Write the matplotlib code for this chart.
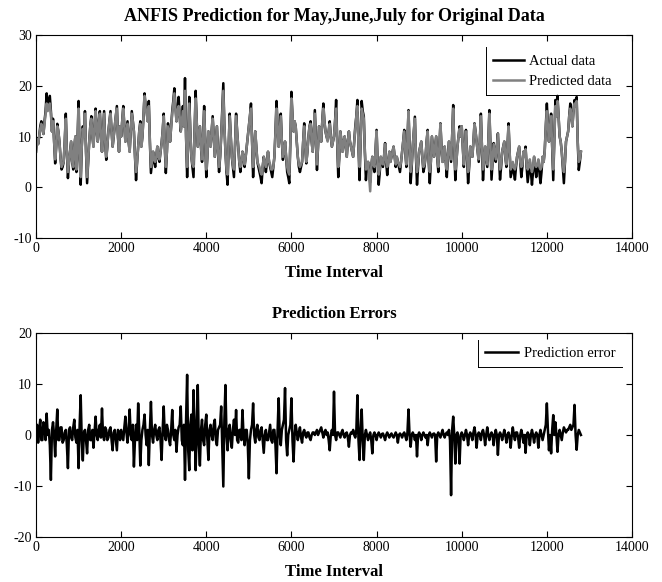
import numpy as np
import matplotlib
matplotlib.use("Agg")
import matplotlib.pyplot as plt
from matplotlib.lines import Line2D

plt.rcParams['font.family'] = ['Liberation Serif', 'DejaVu Serif']
plt.rcParams['axes.unicode_minus'] = False

# Time index (sampling step of the read-off values)
time_step = 25
time = np.arange(0, 12801, time_step)

# Actual data, one row per 1000 time units
actual_rows = [
    [7, 9.5, 8.5, 10, 12, 13, 11.5, 10.5, 13, 15, 18.5, 16, 17, 18, 15, 11, 13.5, 9, 4.7, 8,
     12.5, 11, 9, 6, 3.5, 4, 5, 9, 14.5, 7, 1.8, 5, 7, 9, 5, 3.5, 8, 10, 3, 9],
    [17, 6, 0.5, 8, 12, 10, 15, 7, 0.8, 5, 9, 12, 14, 10, 8, 12, 15.5, 11, 9, 13,
     15, 10, 7, 11, 15, 9, 5.4, 8, 11, 13, 15, 11, 8, 10, 12, 14, 16, 10, 7, 12],
    [10, 13, 16, 12, 9, 11, 13, 9, 7, 11, 15, 13, 11, 6, 1.4, 5, 8, 11, 13, 8,
     10, 14, 18.5, 16, 15, 13, 17, 9, 2.8, 5, 7, 5, 4, 6, 8, 6, 5, 7, 8.7, 11],
    [14.5, 8, 2.8, 7, 12.6, 11, 9, 12, 15, 17, 19.5, 16, 13, 15, 17.8, 14, 11, 13, 16, 12,
     21.5, 10, 2, 9, 17.8, 11, 6, 4, 2, 11, 19, 13, 8, 10, 12, 8, 5, 10, 16, 9],
    [2, 6, 11, 9, 8, 11, 14, 10, 6, 9, 12, 7, 3, 6, 10, 15, 20.5, 12, 7, 3,
     0.5, 8, 14.5, 10, 6, 4, 2, 8, 14.5, 11, 8, 5, 3, 5, 7, 6, 4, 6, 8, 10],
    [12, 14, 16.5, 9, 2, 7, 11, 8, 5, 4, 3, 2, 0.8, 4, 6, 5, 3, 5, 7, 5,
     4, 3, 2, 4, 6, 11, 17, 12, 8, 11, 14.5, 9, 5.4, 7, 9, 6, 3, 2, 0.8, 9],
    [18.8, 14, 11, 13, 12, 9, 6, 4, 3, 4, 5, 9, 12.6, 8, 4.7, 7, 10, 12, 13, 9,
     7, 11, 15.2, 9, 3.4, 8, 12, 10, 9, 13, 16.5, 13, 11, 10, 9.3, 11, 13, 10, 8, 9],
    [10, 13, 17.2, 9, 2, 6, 11, 9, 7, 9, 10, 8, 6, 9, 11, 9, 8, 7, 6, 9,
     12, 14, 17.2, 8, 1.4, 9, 17, 15, 14, 7, 1.4, 4, 5, 3, 1, 4, 6, 4, 3, 7],
    [11.3, 5, 0.5, 3, 6, 5, 4, 6, 8.7, 5, 2.4, 5, 7, 5, 6, 7, 8, 6, 4, 6,
     5, 4, 3, 5, 7, 9, 11.3, 7, 4, 9, 15.2, 8, 0.8, 4, 8, 11, 13.9, 6, 0.5, 4],
    [7, 8, 9, 6, 3, 4, 6, 9, 11.3, 5, 0.8, 5, 10, 8, 6, 8, 10, 6, 3, 8,
     12.6, 8, 5, 6, 8, 5, 2, 6, 9, 7, 5, 10, 16.2, 8, 1.4, 5, 8, 10, 12, 10],
    [12, 8, 4, 8, 11.3, 6, 0.8, 4, 8, 7, 6, 9, 12.6, 11, 9, 7, 5, 9, 14.5, 8,
     1.4, 5, 8, 6, 4, 9, 15.2, 8, 1.5, 5, 8.7, 7, 5, 8, 10.6, 6, 1.5, 4, 7, 8],
    [9, 6, 4, 8, 12.6, 7, 2, 3, 4, 3, 1.5, 4, 6, 7, 8, 5, 2, 4, 7, 6,
     8, 4, 1, 3, 5, 3, 0.5, 3, 6, 4, 2, 4, 5, 3, 0.8, 3, 6, 5, 7.3, 12],
    [16.5, 12, 9, 12, 14.5, 8, 1.4, 9, 17.2, 14, 18, 14, 10, 9, 7, 4, 0.8, 5, 9, 10,
     11, 14, 16.5, 14, 12, 15, 17.2, 16, 17.8, 9, 3.4, 5, 7],
]

# Predicted data (ANFIS output), one row per 1000 time units
predicted_rows = [
    [7, 9.5, 8.5, 10, 11.5, 12.5, 11.5, 10.5, 12.5, 14.5, 16.5, 15, 16, 16.5, 14.5, 11, 13, 9, 5.5, 8,
     12, 11, 9, 6, 4, 4.5, 5, 9, 13.5, 7, 3, 5, 7, 9, 5, 4, 8, 10, 3.5, 9],
    [15.5, 6, 2, 8, 11.5, 10, 14.5, 7, 2, 5, 9, 12, 13.5, 10, 8, 12, 15, 11, 9, 13,
     14.5, 10, 7, 11, 14.5, 9, 6, 8, 11, 13, 14.5, 11, 8, 10, 12, 14, 15.5, 10, 7, 12],
    [10, 13, 15.5, 12, 9, 11, 12.5, 9, 7, 11, 14.5, 13, 11, 6, 3, 5, 8, 11, 12.5, 8,
     10, 14, 18, 15.5, 14.5, 13, 16, 9, 4, 5, 7, 5.5, 5, 6, 8, 6, 5.5, 7, 8.5, 11],
    [14, 8, 4, 7, 12, 11, 9, 12, 14.5, 16.5, 18.5, 15.5, 13, 15, 16, 14, 11, 13, 15, 12,
     19, 10, 4, 9, 16.5, 11, 6, 4.5, 4, 11, 17.5, 13, 8, 10, 12, 8, 5.5, 10, 15, 9],
    [3.5, 6, 11, 9, 8, 11, 13.5, 10, 6, 9, 12, 7, 4, 6, 10, 14.5, 19, 12, 7, 3.5,
     2.5, 8, 14, 10, 6, 4.5, 3.5, 8, 14, 11, 8, 5, 4, 5, 7, 6, 4.5, 6, 8, 10],
    [12, 14, 15.5, 9, 4, 7, 11, 8, 5, 4.5, 4, 3, 2.5, 4, 6, 5, 4, 5, 7, 5,
     4.5, 3.5, 3.5, 4, 6, 11, 15.5, 12, 8, 11, 14, 9, 6, 7, 9, 6, 4, 3, 2.5, 9],
    [17.5, 14, 11, 13, 12, 9, 6, 4.5, 4, 4.5, 5, 9, 12, 8, 5, 7, 10, 12, 12.5, 9,
     7, 11, 14.5, 9, 4.5, 8, 12, 10, 9, 13, 15.5, 13, 11, 10, 9, 11, 12.5, 10, 8, 9],
    [10, 13, 15.5, 9, 4, 6, 11, 9, 7, 9, 10, 8, 6, 9, 11, 9, 8, 7, 6, 9,
     11.5, 14, 16, 8, 4, 9, 15.5, 14.5, 13.5, 7, 3.5, 4.5, 5, 2, -0.8, 4, 6, 4.5, 4, 7],
    [11, 5, 2.5, 3.5, 6, 5, 4.5, 6, 8.5, 5, 4, 5, 7, 5, 6, 7, 8, 6, 4.5, 6,
     5, 4.5, 4, 5, 7, 9, 11, 7, 4.5, 9, 15, 8, 3, 4.5, 8, 11, 13.5, 6, 3, 4.5],
    [7, 8, 9, 6, 4, 4.5, 6, 9, 11, 5, 3, 5, 10, 8, 6, 8, 10, 6, 4, 8,
     12.5, 8, 5, 6, 8, 5, 3.5, 6, 9, 7, 5.5, 10, 15.5, 8, 3.5, 5, 8, 10, 11.5, 10],
    [12, 8, 4.5, 8, 11, 6, 3, 4.5, 8, 7, 6, 9, 12.5, 11, 9, 7, 5.5, 9, 14, 8,
     3.5, 5, 8, 6, 4.5, 9, 14.5, 8, 3.5, 5, 8.5, 7, 5.5, 8, 10.5, 6, 3.5, 4.5, 7, 8],
    [9, 6, 4.5, 8, 12, 7, 3.5, 4, 5, 4, 3.5, 4.5, 6, 7, 8, 5, 4, 4.5, 7, 6,
     7.5, 4.5, 3.5, 4, 5.5, 4, 3, 4, 6, 4.5, 4, 4.5, 5.5, 4, 3.5, 4, 6, 5, 7, 12],
    [15, 12, 9, 12, 14, 8, 3.5, 9, 16, 14, 17, 14, 10, 9, 7, 4.5, 3, 5, 9, 10,
     11, 14, 15.5, 14, 12, 15, 16.5, 16, 17, 9, 5, 5.5, 7],
]

# Prediction error, one row per 1000 time units
error_rows = [
    [0.5, 2, -1.5, 1, 3, -1, -1, 2.5, 2, -1, 4.2, 0, 1, -2, -8.8, 1, 2.5, 0, -4.2, 1,
     5, -1, -1, 1.5, 1.5, -1.5, -1, 0.5, 1, -2, -6.5, 1, 1.5, -0.5, -1, 1.5, 3, -0.5, -1.5, 1],
    [-6.5, 2, 7.8, -1, -5, 0.5, 1, -1, -3.6, 1, 2, -1, -1, 1, -2.5, 0.5, 3.6, 0, -1, 1,
     2, -0.5, 5.2, 0, -1, 1.5, 1, -1, -0.5, 1, 1.5, -1, -3, 0.5, 1, -1, -3, 1, 0.5, -1],
    [1, 0, -1, 1.5, 3.6, 0.5, -1.5, 1, 5, 0, -1, 2, -6.2, -1, 2, -1, 6.2, 1, -6, -1,
     1, 2, 4, 0, -2, 1, -5.9, 1, 6.5, 0, -1.5, 1, 2, 0, -1, 1, 1.5, -1, -4.9, 1],
    [5.6, 0, -1, 2, 1, -1, -2, 1, 4.9, 0, -1, 1, -3.3, 0, 1.5, 2, 5.6, -1, -2, 2,
     -8.8, 3, 11.8, -3, -6.9, 2, 4, -3, 8.8, 2, -6.9, 1, 9.8, -2, -6, 1, 3, -1, -2, 2],
    [4, -1, -4.9, 1, 2, 0, -1, 2, 3, -1, -2, 1, 1.5, 2, 5.6, -2, -10.1, 3, 9.8, 0,
     -3, 1, 2, -1, -2.5, 1, 3, 0, 4.9, -1, -1.5, 1, 1, -1, 4.9, 0, -2, 1, 1, -2],
    [-8.5, -1, 1, 2, 6.2, 0, -1.5, 1, 2, -0.5, -1, 1, 1.5, -1, -3.5, 0, 1, -1, -1, 0.5,
     2, -1, -1.5, 1, 1, -2, -7.5, 1, 7.2, 0, -2, 1, 2, 3, 9.2, -1, -4, 0, 1, 2],
    [7.2, -1, -5.2, 0, 2, 0.5, -1, 0.5, 1.5, -0.5, -1.5, 0.5, 1, 0, -0.5, 0.5, 0.5, -0.5, -1, 0,
     0.5, 0.5, 0, 0.5, 1, 0, 0.5, 1, 1.5, 0.5, -0.5, 0.5, 1, 0, 0.5, -1, -3, 0, 1, 0],
    [8.5, 0, -1, 0.5, 0.5, 0, -0.5, 0.5, 1, 0, -0.5, 0.3, 0.5, -0.5, -2.3, 0, 0.5, 0.3, 1, 0,
     -0.5, 1, 7.8, -1, -4.9, 1, 5, -1, -4.9, 0, 1, 0, -1, 0, 0.5, -1, -3.6, 0, 0.5, 0],
    [-1, 0, 0.5, 0, -0.5, 0.2, 0.3, -0.3, -1, 0, 0.5, 0, -0.5, 0, 0.3, -0.2, -0.5, 0, 0.5, 0,
     -1.5, 0, 0.3, 0, -0.5, 0.2, 0.5, -0.2, -1, 0.5, 5, 0, -2.3, 0, 0.5, 0, -1, 0, -4.2, 0],
    [0.5, 0, -1, 0, 0.5, 0, -0.5, 0, -2, 0, 0.5, 0, -0.5, 0.2, 0.3, 0, -5.2, 0, 0.5, 0,
     -0.5, 0.3, 1, 0, -0.5, 0.2, 0.5, 0, 1, -1, -11.8, 1, 3.6, 0, -5.6, 0, 0.5, -1, -5.6, 0],
    [0.5, 0, -1, 0, 1, 0, -2, 0, 0.5, 0, -1, 0.5, 1.5, 0, -2.5, 0, 0.5, 0, -1, 0.5,
     1, 0, -2, 0, 1.5, 0, -1, 0, 0.5, 0, -2, 0, 1, 0, -3.9, 0, 0.5, 0, -1, 0],
    [1, 0, -1.5, 0, 0.5, -0.5, -2.5, 0, 1.5, 0, -1, 0.5, 0.5, -0.5, -2.5, 0, 1, 0, -1.5, 0,
     -3.5, 0, 0.5, 0, -2, 0, 1, 0, -1.5, 0, 0.5, 0, -2.5, 0, 1, 0, -1, 0, 1, 2],
    [6.2, 1, -3, 0, -3.6, 1, 3.9, 0, 2.5, 0, -3.3, 0, 1, 0, -1, 0.5, 1.5, 1, 0.5, 1,
     1, 1.5, 2, 1, 1.5, 2, 5.9, 0, -2.9, 0, 1, 0.5, 0],
]

for rows in (actual_rows, predicted_rows, error_rows):
    for r in rows[:-1]:
        assert len(r) == 40, len(r)
    assert len(rows[-1]) == 33

actual = np.concatenate(actual_rows)
predicted = np.concatenate(predicted_rows)
error = np.concatenate(error_rows)
assert len(actual) == len(time) == len(predicted) == len(error)

xticks = [0, 2000, 4000, 6000, 8000, 10000, 12000, 14000]
yticks_top = [-10, 0, 10, 20, 30]
yticks_bot = [-20, -10, 0, 10, 20]

W, H = 662, 582
fig = plt.figure(figsize=(W / 100, H / 100), dpi=100)

def px_axes(l, t, r, b):
    return fig.add_axes([l / W, 1 - b / H, (r - l) / W, (b - t) / H])

ax1 = px_axes(36, 35, 632, 238)
ax2 = px_axes(36, 333, 632, 537)

grey = '#808080'
ax1.plot(time, actual, color='black', lw=1.8, label='Actual data')
ax1.plot(time, predicted, color=grey, lw=1.8, label='Predicted data')
ax2.plot(time, error, color='black', lw=1.8, label='Prediction error')

for ax, yt in ((ax1, yticks_top), (ax2, yticks_bot)):
    ax.set_xlim(0, 14000)
    ax.set_ylim(yt[0], yt[-1])
    ax.set_xticks(xticks)
    ax.set_yticks(yt)
    ax.tick_params(direction='in', top=True, right=True, length=4, width=0.8,
                   labelsize=10, pad=3)
    for s in ax.spines.values():
        s.set_linewidth(0.8)
    ax.set_xlabel('Time Interval', fontsize=12, fontweight='bold', labelpad=7)

ax1.set_title('ANFIS Prediction for May,June,July for Original Data',
              fontsize=13, fontweight='bold', pad=10)
ax2.set_title('Prediction Errors', fontsize=12, fontweight='bold', pad=11)

leg1 = ax1.legend(loc='upper right', bbox_to_anchor=(0.99, 0.975), frameon=False,
                  fontsize=10.5, handlelength=2.1, handletextpad=0.35, borderpad=0.5,
                  labelspacing=0.45)
leg2 = ax2.legend(loc='upper right', bbox_to_anchor=(0.995, 1.0), frameon=False,
                  fontsize=10.5, handlelength=2.3, handletextpad=0.35, borderpad=0.45)
for leg in (leg1, leg2):
    for h in leg.get_lines():
        h.set_linewidth(1.8)

fig.canvas.draw()
for ax, leg in ((ax1, leg1), (ax2, leg2)):
    bb = leg.get_window_extent().transformed(ax.transAxes.inverted())
    ax.add_line(Line2D([bb.x0, bb.x0], [bb.y0, bb.y1], transform=ax.transAxes,
                       color='black', lw=0.7, clip_on=False))
    ax.add_line(Line2D([bb.x0, bb.x1], [bb.y0, bb.y0], transform=ax.transAxes,
                       color='black', lw=0.7, clip_on=False))

fig.savefig('out.png', dpi=100)
